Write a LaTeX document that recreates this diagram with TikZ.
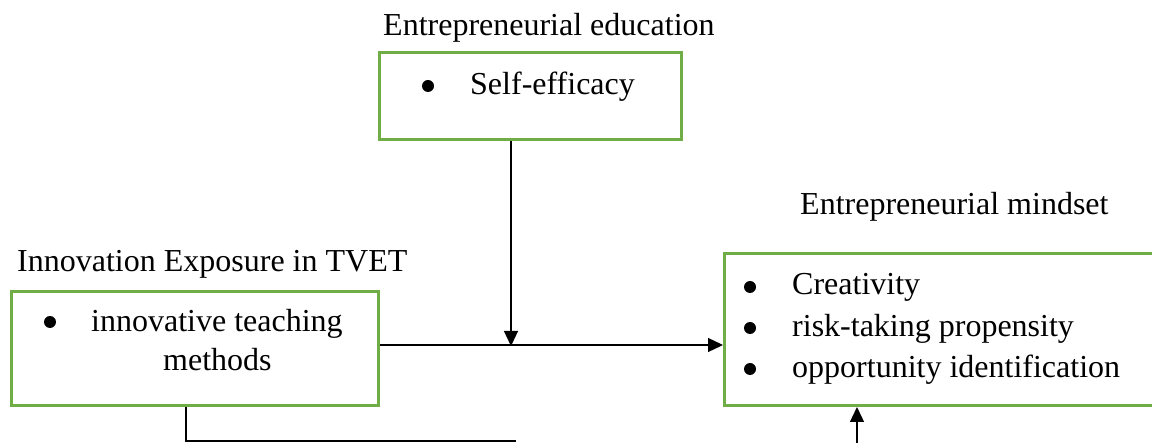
\documentclass[tikz,border=0pt]{standalone}
\usepackage{fontspec}
\setmainfont{Liberation Serif}
\usetikzlibrary{arrows.meta}
\definecolor{boxgreen}{HTML}{70AD47}
\begin{document}
\begin{tikzpicture}[x=1pt,y=-1pt,
  box/.style={draw=boxgreen, line width=3pt, rectangle, inner sep=0pt, anchor=north west},
  txt/.style={font=\fontsize{32}{38}\selectfont, anchor=base west, inner sep=0pt},
  dot/.style={circle, fill=black, inner sep=0pt, minimum size=12pt},
  link/.style={draw=black, line width=1.3pt},
  arr/.style={link, -{Triangle[length=15pt,width=14pt]}}]
\useasboundingbox (0,0) rectangle (1152,443);
\clip (0,0) rectangle (1152,443);

% boxes
\node[box, minimum width=302pt, minimum height=87pt] (edu) at (378,51) {};
\node[box, minimum width=367pt, minimum height=114pt] (innov) at (10,290) {};
\node[box, minimum width=460pt, minimum height=152pt] (mind) at (723,252) {};

% titles
\node[txt] (eduT) at (383,36) {Entrepreneurial education};
\node[txt] (innovT) at (17,272) {Innovation Exposure in TVET};
\node[txt] (mindT) at (800,215) {Entrepreneurial mindset};

% box contents
\node[dot] (eduB) at (428,86) {};
\node[txt] (eduL) at (470,95) {Self-efficacy};

\node[dot] (innovB) at (50,322) {};
\node[txt] (innovL1) at (91,332) {innovative teaching};
\node[txt] (innovL2) at (163,371) {methods};

\node[dot] (mindB1) at (750,287) {};
\node[dot] (mindB2) at (750,328) {};
\node[dot] (mindB3) at (750,369) {};
\node[txt] (mindL1) at (792,295) {Creativity};
\node[txt] (mindL2) at (792,337) {risk-taking propensity};
\node[txt] (mindL3) at (792,378) {opportunity identification};

% connectors
\coordinate (join) at (511,345);
\coordinate (lowL) at (186,441);
\coordinate (lowR) at (516,441);
\coordinate (upB) at (857,446);

\draw[arr] (edu.south -| join) -- ([yshift=-1pt]join);
\draw[arr] (innov.east |- join) -- (mind.west |- join);
\draw[link] (innov.south -| lowL) -- (lowL) -- (lowR);
\draw[arr] (upB) -- (mind.south -| upB);
\end{tikzpicture}
\end{document}
